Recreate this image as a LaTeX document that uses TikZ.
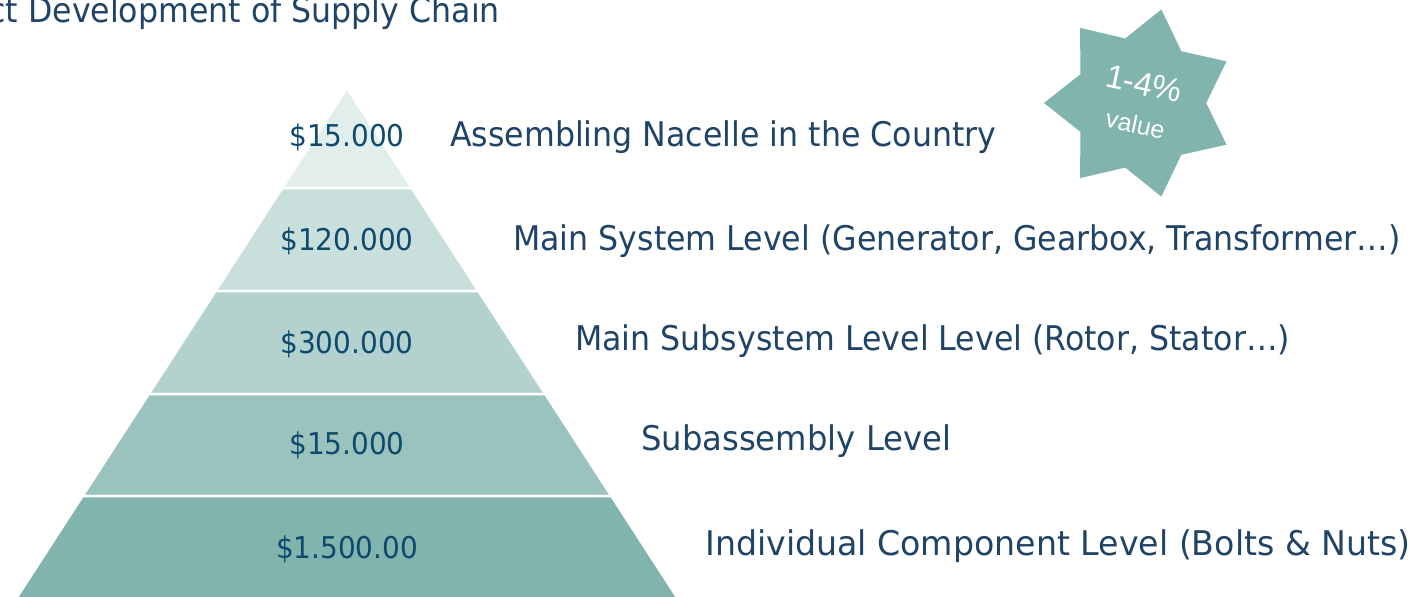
\documentclass[tikz,border=0pt]{standalone}
\usepackage{fontspec}
\setmainfont[FakeStretch=0.93]{DejaVu Sans}
\newfontfamily\starfont{Liberation Sans}
\usetikzlibrary{shapes.geometric}

\definecolor{navy}{HTML}{1F4467}
\definecolor{pricecol}{HTML}{0E4A6E}
\definecolor{tierA}{HTML}{E2EEEC}
\definecolor{tierB}{HTML}{C9DFDC}
\definecolor{tierC}{HTML}{B3D2CE}
\definecolor{tierD}{HTML}{9BC3BE}
\definecolor{tierE}{HTML}{80B4AD}

\begin{document}
\begin{tikzpicture}[x=1pt,y=-1pt]
    \tikzstyle{tier}=[draw=white, line width=2.5pt]
    \tikzstyle{price}=[text=pricecol, font=\fontsize{30}{30}\selectfont, inner sep=0pt, anchor=base]
    \tikzstyle{level}=[text=navy, font=\fontsize{34}{34}\selectfont, inner sep=0pt, anchor=base west]
    \tikzstyle{badge}=[star, star points=7, star point ratio=1.45, minimum size=192pt, inner sep=0pt, fill=tierE, text=white, align=center, rotate=-12, shape border rotate=102, font=\starfont\fontsize{33}{39}\selectfont]

    \useasboundingbox (0,0) rectangle (1414,597);
    \fill[white] (0,0) rectangle (1414,597);
    \clip (0,0) rectangle (1414,597);

    % title, cut off by the frame
    \node[text=navy, font=\fontsize{34}{34}\selectfont, inner sep=0pt, anchor=base east] (title) at (500,23) {ct Development of Supply Chain};

    % pyramid
    \coordinate (apex) at (347,88);
    \filldraw[tier, fill=tierA] (apex) -- (411.8,188) -- (282.2,188) -- cycle;
    \filldraw[tier, fill=tierB] (282.2,188) -- (411.8,188) -- (478.5,291) -- (215.5,291) -- cycle;
    \filldraw[tier, fill=tierC] (215.5,291) -- (478.5,291) -- (545.3,394) -- (148.7,394) -- cycle;
    \filldraw[tier, fill=tierD] (148.7,394) -- (545.3,394) -- (611.4,496) -- (82.6,496) -- cycle;
    \filldraw[tier, fill=tierE] (82.6,496) -- (611.4,496) -- (704.7,640) -- (-10.7,640) -- cycle;

    \node[price] (p1) at (347,146) {\$15.000};
    \node[price] (p2) at (347,250) {\$120.000};
    \node[price] (p3) at (347,353) {\$300.000};
    \node[price] (p4) at (347,454) {\$15.000};
    \node[price] (p5) at (347,558) {\$1.500.00};

    \node[level] (l1) at (450,146) {Assembling Nacelle in the Country};
    \node[level] (l2) at (513,250) {Main System Level (Generator, Gearbox, Transformer…)};
    \node[level] (l3) at (575,350) {Main Subsystem Level Level (Rotor, Stator…)};
    \node[level] (l4) at (641,450) {\scalebox{1.02}[1]{Subassembly Level}};
    \node[level] (l5) at (705,555) {\scalebox{1.05}[1]{Individual Component Level (Bolts \& Nuts)}};

    % star badge
    \node[badge] (badge) at (1140,103) {1-4\%\\{\fontsize{25}{39}\selectfont value}};
\end{tikzpicture}
\end{document}
